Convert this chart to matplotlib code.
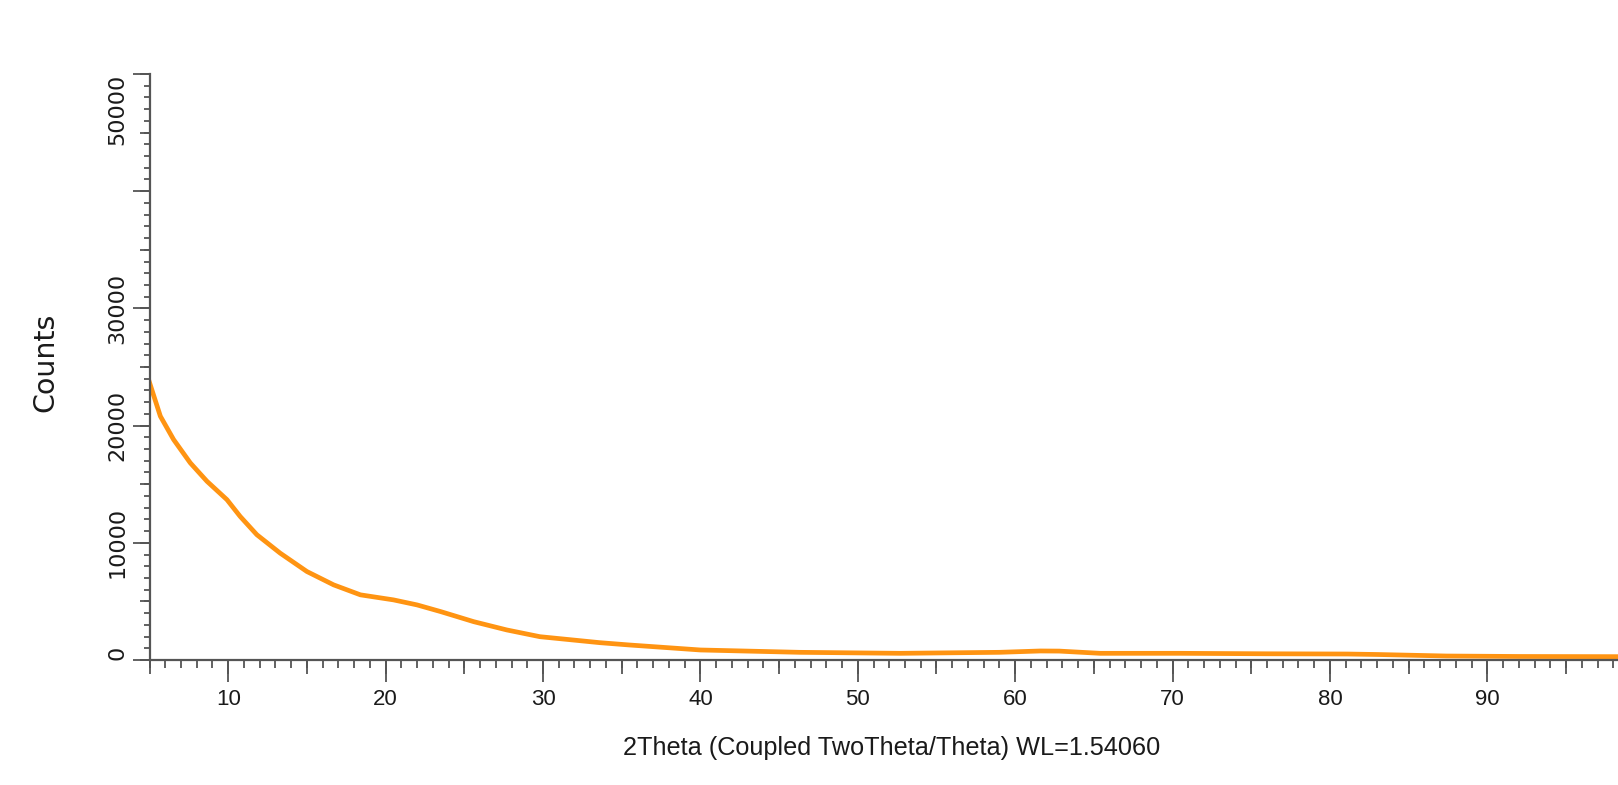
import matplotlib
matplotlib.use("Agg")
import matplotlib.pyplot as plt
from matplotlib.ticker import MultipleLocator, FixedLocator

# Data
two_theta = [5.0, 5.69, 6.53, 7.59, 8.65, 9.92, 10.76, 11.82, 13.3, 15.0, 16.7,
             18.4, 20.5, 22.0, 23.5, 25.6, 27.7, 29.8, 33.6, 35.5, 40.0, 46.3,
             52.7, 59.0, 61.6, 62.8, 65.4, 70.5, 76.0, 81.1, 83.0, 87.4, 92.0, 98.3]
counts = [23680, 20800, 18810, 16820, 15250, 13680, 12250, 10690, 9120, 7550, 6410,
          5560, 5130, 4700, 4130, 3270, 2565, 1990, 1480, 1280, 855, 655,
          570, 655, 770, 760, 570, 570, 530, 510, 470, 340, 300, 285]

y_ticks = [0, 10000, 20000, 30000, 40000, 50000]
y_tick_labels = ["0", "10000", "20000", "30000", "", "50000"]
x_ticks = [10, 20, 30, 40, 50, 60, 70, 80, 90]

x_label = "2Theta (Coupled TwoTheta/Theta) WL=1.54060"
y_label = "Counts"

narrow = ["Liberation Sans", "DejaVu Sans"]
wide = ["DejaVu Sans"]
axis_col = "#555555"
text_col = "#1a1a1a"

fig = plt.figure(figsize=(16.18, 7.85), dpi=100)
ax = fig.add_axes([149.5 / 1618, (785 - 660) / 785, 1 - 149.5 / 1618, (660 - 74) / 785])

ax.plot(two_theta, counts, color="#FF9412", lw=3.4, solid_joinstyle="round")

ax.set_xlim(5, 98.3)
ax.set_ylim(0, 50000)

for s in ["top", "right"]:
    ax.spines[s].set_visible(False)
for s in ["left", "bottom"]:
    ax.spines[s].set_color(axis_col)
    ax.spines[s].set_linewidth(1.6)

# x ticks
ax.xaxis.set_major_locator(FixedLocator(x_ticks))
ax.xaxis.set_minor_locator(MultipleLocator(1))
ax.set_xticklabels([str(v) for v in x_ticks], family=narrow, fontsize=16)
ax.tick_params(axis="x", which="major", length=16, width=1.3, color=axis_col,
               direction="out", pad=5, labelcolor=text_col)
ax.tick_params(axis="x", which="minor", length=6, width=1.3, color=axis_col,
               direction="out")
secx = ax.secondary_xaxis("bottom")
secx.xaxis.set_major_locator(MultipleLocator(5))
secx.tick_params(axis="x", which="major", length=10, width=1.3, color=axis_col,
                 direction="out", labelbottom=False)
secx.tick_params(axis="x", which="minor", length=0)
for s in secx.spines.values():
    s.set_visible(False)

# y ticks
ax.yaxis.set_major_locator(FixedLocator(y_ticks))
ax.yaxis.set_minor_locator(MultipleLocator(1000))
ax.set_yticklabels(y_tick_labels, family=wide, fontsize=16, rotation=90)
ax.tick_params(axis="y", which="major", length=12, width=1.3, color=axis_col,
               direction="out", pad=4, labelcolor=text_col)
ax.tick_params(axis="y", which="minor", length=4.5, width=1.3, color=axis_col,
               direction="out")
secy = ax.secondary_yaxis("left")
secy.yaxis.set_major_locator(MultipleLocator(5000))
secy.tick_params(axis="y", which="major", length=7.5, width=1.3, color=axis_col,
                 direction="out", labelleft=False)
secy.tick_params(axis="y", which="minor", length=0)
for s in secy.spines.values():
    s.set_visible(False)

labels = ax.get_yticklabels()
for lab in labels:
    lab.set_rotation(90)
    lab.set_va("center")
labels[0].set_va("bottom")
labels[-1].set_va("top")

fig.text(892 / 1618, (785 - 748) / 785, x_label, family=narrow, fontsize=18.2,
         ha="center", va="center", color=text_col)
fig.text(45 / 1618, (785 - 362) / 785, y_label, family=wide, fontsize=20.5,
         rotation=90, ha="center", va="center", color=text_col)

fig.savefig("out.png", dpi=100, facecolor="white")
